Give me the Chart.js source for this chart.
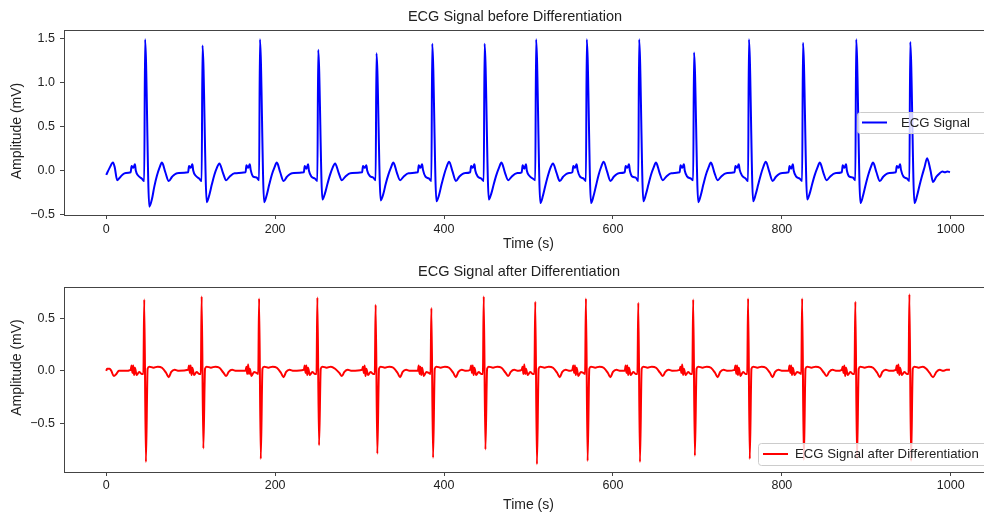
<!DOCTYPE html>
<html lang="en">
<head>
    <meta charset="UTF-8">
    <title>ECG Signal</title>
    <script src="https://cdn.jsdelivr.net/npm/chart.js"></script>
    <style>
        body {
            margin: 0;
            background: #fff;
            overflow: hidden;
            width: 984px;
            height: 516px;
        }

        .panel {
            position: absolute;
            left: 0;
            width: 1000px;
            height: 258px;
        }

        #panelTop { top: 0; }
        #panelBottom { top: 258px; }
    </style>
</head>
<body>
    <div class="panel" id="panelTop"><canvas id="chartRaw" width="1000" height="258"></canvas></div>
    <div class="panel" id="panelBottom"><canvas id="chartDiff" width="1000" height="258"></canvas></div>

    <script>
        // tick values
        const timeTicks = [0, 200, 400, 600, 800, 1000];
        const rawTicks = [-0.5, 0.0, 0.5, 1.0, 1.5];
        const diffTicks = [-0.5, 0.0, 0.5];

        // ECG signal, one line per beat (starting at the R peak)
        const rawTime = [
            0, 4, 8, 10, 13, 17, 22, 29, 30, 32, 34, 35, 38, 42, 45,
            46, 51, 54, 57, 60, 63, 66, 70, 74, 78, 84, 97, 98, 100, 102, 103, 106, 110, 113,
            114, 119, 122, 125, 128, 131, 134, 138, 142, 146, 152, 165, 166, 168, 170, 171, 174, 178, 181,
            182, 187, 190, 193, 196, 199, 202, 206, 210, 214, 220, 234, 235, 237, 239, 240, 243, 247, 250,
            251, 256, 259, 262, 265, 268, 271, 275, 279, 283, 289, 303, 304, 306, 308, 309, 312, 316, 319,
            320, 325, 328, 331, 334, 337, 340, 344, 348, 352, 358, 369, 370, 372, 374, 375, 378, 382, 385,
            386, 391, 394, 397, 400, 403, 406, 410, 414, 418, 424, 431, 432, 434, 436, 437, 440, 444, 447,
            448, 453, 456, 459, 462, 465, 468, 472, 476, 480, 486, 492, 493, 495, 497, 498, 501, 505, 508,
            509, 514, 517, 520, 523, 526, 529, 533, 537, 541, 547, 552, 553, 555, 557, 558, 561, 565, 568,
            569, 574, 577, 580, 583, 586, 589, 593, 597, 601, 607, 614, 615, 617, 619, 620, 623, 627, 630,
            631, 636, 639, 642, 645, 648, 651, 655, 659, 663, 669, 679, 680, 682, 684, 685, 688, 692, 695,
            696, 701, 704, 707, 710, 713, 716, 720, 724, 728, 734, 744, 745, 747, 749, 750, 753, 757, 760,
            761, 766, 769, 772, 775, 778, 781, 785, 789, 793, 799, 808, 809, 811, 813, 814, 817, 821, 824,
            825, 830, 833, 836, 839, 842, 845, 849, 853, 857, 863, 871, 872, 874, 876, 877, 880, 884, 887,
            888, 893, 896, 899, 902, 905, 908, 912, 916, 920, 926, 935, 936, 938, 940, 941, 944, 948, 951,
            952, 957, 960, 963, 966, 969, 972, 976, 979, 983, 987, 990, 993, 996, 999
        ];
        const rawAmp = [
            -0.05, 0.03, 0.09, 0.04, -0.11, -0.07, -0.03, -0.02, 0.05, 0.03, 0.07, 0.00, -0.06, -0.09, -0.12,
            1.49, -0.41, -0.33, -0.18, -0.06, 0.03, 0.09, -0.02, -0.12, -0.07, -0.03, -0.02, 0.05, 0.03, 0.07, 0.00, -0.06, -0.09, -0.12,
            1.42, -0.36, -0.28, -0.16, -0.05, 0.03, 0.08, -0.02, -0.11, -0.07, -0.03, -0.02, 0.06, 0.03, 0.07, 0.01, -0.07, -0.08, -0.11,
            1.49, -0.36, -0.28, -0.16, -0.05, 0.03, 0.09, -0.02, -0.12, -0.07, -0.03, -0.02, 0.05, 0.02, 0.07, 0.00, -0.07, -0.09, -0.12,
            1.37, -0.33, -0.26, -0.15, -0.05, 0.03, 0.08, -0.02, -0.11, -0.07, -0.03, -0.02, 0.05, 0.03, 0.06, 0.00, -0.06, -0.08, -0.11,
            1.33, -0.34, -0.27, -0.15, -0.05, 0.03, 0.09, -0.02, -0.11, -0.07, -0.03, -0.02, 0.06, 0.03, 0.07, 0.01, -0.07, -0.09, -0.12,
            1.44, -0.35, -0.28, -0.16, -0.05, 0.04, 0.10, -0.01, -0.12, -0.07, -0.03, -0.02, 0.05, 0.03, 0.07, 0.00, -0.07, -0.09, -0.12,
            1.44, -0.33, -0.26, -0.15, -0.05, 0.03, 0.09, -0.02, -0.11, -0.07, -0.03, -0.02, 0.06, 0.02, 0.07, 0.00, -0.06, -0.09, -0.11,
            1.49, -0.37, -0.29, -0.17, -0.06, 0.03, 0.08, -0.02, -0.12, -0.07, -0.03, -0.02, 0.05, 0.03, 0.07, 0.01, -0.07, -0.09, -0.12,
            1.49, -0.37, -0.29, -0.17, -0.05, 0.04, 0.10, -0.01, -0.12, -0.07, -0.03, -0.02, 0.05, 0.03, 0.07, 0.00, -0.07, -0.08, -0.12,
            1.49, -0.35, -0.27, -0.16, -0.05, 0.03, 0.09, -0.02, -0.11, -0.07, -0.03, -0.02, 0.06, 0.03, 0.07, 0.00, -0.07, -0.09, -0.11,
            1.34, -0.36, -0.28, -0.16, -0.05, 0.03, 0.09, -0.02, -0.11, -0.07, -0.03, -0.02, 0.05, 0.03, 0.07, 0.01, -0.06, -0.09, -0.12,
            1.49, -0.35, -0.27, -0.16, -0.05, 0.04, 0.10, -0.01, -0.12, -0.07, -0.03, -0.02, 0.05, 0.02, 0.07, 0.00, -0.07, -0.09, -0.12,
            1.45, -0.33, -0.26, -0.15, -0.05, 0.03, 0.09, -0.02, -0.11, -0.07, -0.03, -0.02, 0.06, 0.03, 0.07, 0.00, -0.07, -0.08, -0.11,
            1.49, -0.37, -0.29, -0.17, -0.06, 0.03, 0.09, -0.02, -0.12, -0.07, -0.03, -0.02, 0.05, 0.03, 0.07, 0.01, -0.07, -0.09, -0.12,
            1.46, -0.37, -0.29, -0.17, -0.06, 0.04, 0.14, 0.00, -0.13, -0.07, -0.03, -0.01, -0.02, -0.01, -0.02
        ];

        // differentiated signal, one line per beat (starting 2 samples before the R peak)
        const diffTime = [
            0, 1, 4, 6, 9, 12, 15, 22, 29, 30, 31, 32, 33, 34, 36, 39, 42,
            44, 45, 47, 49, 51, 56, 61, 66, 71, 74, 77, 81, 86, 97, 98, 99, 100, 101, 102, 104, 107, 110,
            112, 113, 115, 117, 119, 124, 129, 134, 139, 142, 145, 149, 154, 165, 166, 167, 168, 169, 170, 172, 175, 178,
            180, 181, 183, 185, 187, 192, 197, 202, 207, 210, 213, 217, 222, 234, 235, 236, 237, 238, 239, 241, 244, 247,
            249, 250, 252, 254, 256, 261, 266, 271, 276, 279, 282, 286, 291, 303, 304, 305, 306, 307, 308, 310, 313, 316,
            318, 319, 321, 323, 325, 330, 335, 340, 345, 348, 351, 355, 360, 369, 370, 371, 372, 373, 374, 376, 379, 382,
            384, 385, 387, 389, 391, 396, 401, 406, 411, 414, 417, 421, 426, 431, 432, 433, 434, 435, 436, 438, 441, 444,
            446, 447, 449, 451, 453, 458, 463, 468, 473, 476, 479, 483, 488, 492, 493, 494, 495, 496, 497, 499, 502, 505,
            507, 508, 510, 512, 514, 519, 524, 529, 534, 537, 540, 544, 549, 552, 553, 554, 555, 556, 557, 559, 562, 565,
            567, 568, 570, 572, 574, 579, 584, 589, 594, 597, 600, 604, 609, 614, 615, 616, 617, 618, 619, 621, 624, 627,
            629, 630, 632, 634, 636, 641, 646, 651, 656, 659, 662, 666, 671, 679, 680, 681, 682, 683, 684, 686, 689, 692,
            694, 695, 697, 699, 701, 706, 711, 716, 721, 724, 727, 731, 736, 744, 745, 746, 747, 748, 749, 751, 754, 757,
            759, 760, 762, 764, 766, 771, 776, 781, 786, 789, 792, 796, 801, 808, 809, 810, 811, 812, 813, 815, 818, 821,
            823, 824, 826, 828, 830, 835, 840, 845, 850, 853, 856, 860, 865, 871, 872, 873, 874, 875, 876, 878, 881, 884,
            886, 887, 889, 891, 893, 898, 903, 908, 913, 916, 919, 923, 928, 935, 936, 937, 938, 939, 940, 942, 945, 948,
            950, 951, 953, 955, 957, 962, 967, 971, 975, 979, 983, 987, 991, 995, 999
        ];
        const diffAmp = [
            0.00, 0.02, 0.02, 0.00, -0.05, -0.03, 0.00, 0.00, 0.01, 0.05, -0.02, 0.05, -0.04, 0.03, -0.04, -0.01, -0.03,
            -0.03, 0.68, -0.87, 0.02, 0.04, 0.03, 0.04, 0.03, -0.02, -0.06, -0.01, 0.01, 0.00, 0.01, 0.05, -0.02, 0.05, -0.04, 0.03, -0.04, -0.01, -0.03,
            -0.03, 0.71, -0.74, 0.02, 0.04, 0.03, 0.04, 0.03, -0.02, -0.05, -0.01, 0.01, 0.00, 0.00, 0.04, -0.03, 0.06, -0.03, 0.02, -0.05, -0.01, -0.02,
            -0.03, 0.69, -0.84, 0.02, 0.04, 0.03, 0.04, 0.03, -0.02, -0.06, -0.01, 0.01, 0.00, 0.01, 0.05, -0.02, 0.05, -0.04, 0.03, -0.04, -0.01, -0.03,
            -0.03, 0.70, -0.71, 0.02, 0.04, 0.03, 0.04, 0.02, -0.02, -0.05, -0.01, 0.01, 0.00, 0.01, 0.04, -0.02, 0.05, -0.05, 0.02, -0.04, -0.01, -0.03,
            -0.03, 0.63, -0.79, 0.02, 0.04, 0.03, 0.04, 0.03, -0.02, -0.06, -0.01, 0.01, 0.00, 0.00, 0.05, -0.03, 0.04, -0.04, 0.03, -0.05, -0.01, -0.02,
            -0.03, 0.60, -0.83, 0.02, 0.04, 0.03, 0.04, 0.03, -0.02, -0.06, -0.01, 0.01, 0.00, 0.01, 0.05, -0.02, 0.05, -0.04, 0.03, -0.04, -0.01, -0.03,
            -0.03, 0.71, -0.75, 0.02, 0.04, 0.03, 0.04, 0.03, -0.02, -0.05, -0.01, 0.01, 0.00, 0.01, 0.04, -0.03, 0.06, -0.03, 0.02, -0.04, -0.01, -0.03,
            -0.03, 0.66, -0.89, 0.02, 0.04, 0.03, 0.04, 0.03, -0.02, -0.06, -0.01, 0.01, 0.00, 0.01, 0.05, -0.02, 0.05, -0.04, 0.03, -0.05, -0.01, -0.02,
            -0.03, 0.69, -0.86, 0.02, 0.04, 0.03, 0.04, 0.03, -0.02, -0.06, -0.01, 0.01, 0.00, 0.00, 0.05, -0.02, 0.05, -0.04, 0.03, -0.04, -0.01, -0.03,
            -0.03, 0.65, -0.87, 0.02, 0.04, 0.03, 0.04, 0.03, -0.02, -0.05, -0.01, 0.01, 0.00, 0.01, 0.04, -0.02, 0.06, -0.04, 0.02, -0.04, -0.01, -0.03,
            -0.03, 0.68, -0.81, 0.02, 0.04, 0.03, 0.04, 0.03, -0.02, -0.06, -0.01, 0.01, 0.00, 0.01, 0.05, -0.03, 0.05, -0.04, 0.03, -0.05, -0.01, -0.03,
            -0.03, 0.69, -0.84, 0.02, 0.04, 0.03, 0.04, 0.03, -0.02, -0.06, -0.01, 0.01, 0.00, 0.00, 0.05, -0.02, 0.05, -0.04, 0.03, -0.04, -0.01, -0.02,
            -0.03, 0.69, -0.85, 0.02, 0.04, 0.03, 0.04, 0.03, -0.02, -0.05, -0.01, 0.01, 0.00, 0.01, 0.04, -0.02, 0.05, -0.05, 0.03, -0.04, -0.01, -0.03,
            -0.03, 0.66, -0.84, 0.02, 0.04, 0.03, 0.04, 0.03, -0.02, -0.06, -0.01, 0.01, 0.00, 0.01, 0.05, -0.02, 0.06, -0.04, 0.03, -0.04, -0.01, -0.03,
            -0.03, 0.73, -0.86, 0.02, 0.04, 0.03, 0.04, 0.02, -0.02, -0.06, -0.01, 0.01, 0.00, 0.01, 0.01
        ];

        const FONT = "'Liberation Sans', Arial, sans-serif";
        const TEXT_COLOR = '#222';
        const AXIS_COLOR = '#444';

        Chart.defaults.font.family = FONT;
        Chart.defaults.color = TEXT_COLOR;

        const fmtAmp = v => (v < 0 ? '\u2212' : '') + Math.abs(v).toFixed(1);

        // title, y label, top/right spines and the inset legend
        const panelDecor = {
            id: 'panelDecor',
            afterDraw(chart, args, opts) {
                const { ctx, chartArea: a } = chart;
                ctx.save();

                ctx.strokeStyle = AXIS_COLOR;
                ctx.lineWidth = 1;
                ctx.beginPath();
                ctx.moveTo(Math.round(a.left) + 0.5, Math.round(a.top) + 0.5);
                ctx.lineTo(Math.round(a.right) + 0.5, Math.round(a.top) + 0.5);
                ctx.lineTo(Math.round(a.right) + 0.5, Math.round(a.bottom) + 0.5);
                ctx.stroke();

                ctx.fillStyle = TEXT_COLOR;
                ctx.textAlign = 'center';
                ctx.textBaseline = 'middle';
                ctx.font = `14.5px ${FONT}`;
                ctx.fillText(opts.title, opts.titleX, opts.titleY);

                ctx.font = `14px ${FONT}`;
                ctx.save();
                ctx.translate(opts.yLabelX, opts.yLabelY);
                ctx.rotate(-Math.PI / 2);
                ctx.fillText(opts.yLabel, 0, 0);
                ctx.restore();

                // legend box sits inside the axes, against the right spine
                const ds = chart.data.datasets[0];
                const lg = opts.legend;
                const boxRight = a.right - 5;
                ctx.beginPath();
                ctx.roundRect(lg.x + 0.5, lg.y + 0.5, boxRight - lg.x, lg.h, 3);
                ctx.fillStyle = 'rgba(255,255,255,0.8)';
                ctx.fill();
                ctx.strokeStyle = '#cccccc';
                ctx.stroke();

                const midY = lg.y + lg.h / 2;
                ctx.strokeStyle = ds.borderColor;
                ctx.lineWidth = ds.borderWidth;
                ctx.beginPath();
                ctx.moveTo(lg.x + 5, midY);
                ctx.lineTo(lg.x + 30, midY);
                ctx.stroke();

                ctx.fillStyle = TEXT_COLOR;
                ctx.font = `13.2px ${FONT}`;
                ctx.textAlign = 'left';
                ctx.fillText(ds.label, lg.x + lg.textGap, midY + 0.5);

                ctx.restore();
            }
        };

        function buildPanel(canvasId, p) {
            const points = p.time.map((t, i) => ({ x: t, y: p.amp[i] }));
            return new Chart(document.getElementById(canvasId), {
                type: 'line',
                data: {
                    datasets: [{
                        label: p.label,
                        data: points,
                        borderColor: p.color,
                        borderWidth: 2,
                        pointRadius: 0,
                        cubicInterpolationMode: 'monotone',
                        fill: false
                    }]
                },
                options: {
                    responsive: false,
                    animation: false,
                    devicePixelRatio: 1,
                    layout: { padding: { top: p.areaTop, right: 7, bottom: 0, left: 0 } },
                    plugins: {
                        legend: { display: false },
                        tooltip: { enabled: false },
                        panelDecor: p.decor
                    },
                    scales: {
                        x: {
                            type: 'linear',
                            min: -50,
                            max: 1050,
                            afterBuildTicks: s => { s.ticks = timeTicks.map(v => ({ value: v })); },
                            afterFit: s => { s.height = p.xAxisHeight; },
                            grid: { drawOnChartArea: false, tickLength: 4, color: AXIS_COLOR },
                            border: { color: AXIS_COLOR },
                            ticks: {
                                padding: p.xTickPad,
                                maxRotation: 0,
                                autoSkip: false,
                                font: { size: 12.5 },
                                callback: v => String(v)
                            },
                            title: {
                                display: true,
                                text: 'Time (s)',
                                font: { size: 14 },
                                padding: { top: 0, bottom: p.xTitlePad }
                            }
                        },
                        y: {
                            min: p.yMin,
                            max: p.yMax,
                            afterBuildTicks: s => { s.ticks = p.yTicks.map(v => ({ value: v })); },
                            afterFit: s => { s.width = 64; },
                            grid: { drawOnChartArea: false, tickLength: 4, color: AXIS_COLOR },
                            border: { color: AXIS_COLOR },
                            ticks: {
                                padding: 5,
                                font: { size: 12.5 },
                                callback: fmtAmp
                            }
                        }
                    }
                },
                plugins: [panelDecor]
            });
        }

        buildPanel('chartRaw', {
            label: 'ECG Signal',
            time: rawTime,
            amp: rawAmp,
            color: '#0000ff',
            yMin: -0.505,
            yMax: 1.595,
            yTicks: rawTicks,
            areaTop: 30,
            xAxisHeight: 43,
            xTickPad: 3,
            xTitlePad: 5.5,
            decor: {
                title: 'ECG Signal before Differentiation',
                titleX: 515, titleY: 17,
                yLabel: 'Amplitude (mV)',
                yLabelX: 17, yLabelY: 131,
                legend: { x: 857, y: 112, h: 21, textGap: 44 }
            }
        });

        buildPanel('chartDiff', {
            label: 'ECG Signal after Differentiation',
            time: diffTime,
            amp: diffAmp,
            color: '#ff0000',
            yMin: -0.965,
            yMax: 0.80,
            yTicks: diffTicks,
            areaTop: 29,
            xAxisHeight: 44,
            xTickPad: 2,
            xTitlePad: 2.5,
            decor: {
                title: 'ECG Signal after Differentiation',
                titleX: 519, titleY: 14,
                yLabel: 'Amplitude (mV)',
                yLabelX: 17, yLabelY: 109.5,
                legend: { x: 758, y: 185, h: 22, textGap: 37 }
            }
        });
    </script>
</body>
</html>
